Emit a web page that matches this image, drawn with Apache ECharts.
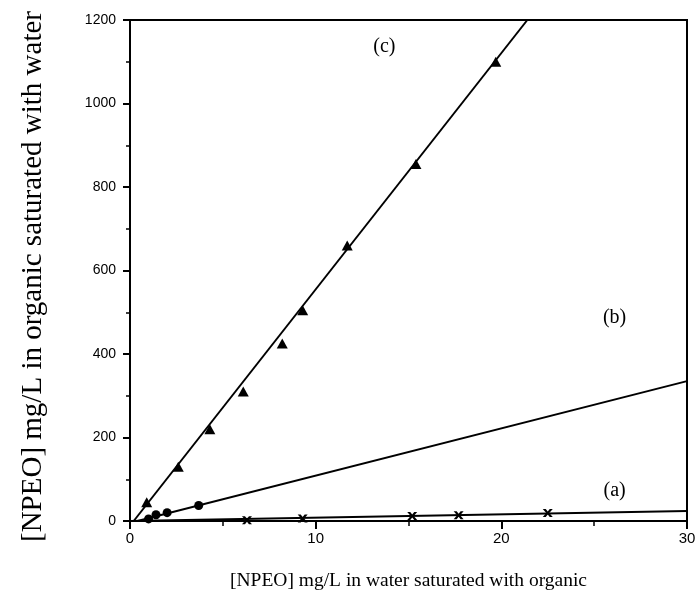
<!DOCTYPE html>
<html>
<head>
<meta charset="utf-8">
<script src="https://cdn.jsdelivr.net/npm/echarts@6/dist/echarts.min.js"></script>
<style>
  html, body { margin: 0; padding: 0; background: #fff; }
  #chart { width: 699px; height: 602px; }
</style>
</head>
<body>
<div id="chart"></div>
<script>
let pointsA = [[6.3, 2], [9.3, 6], [15.2, 12], [17.7, 14], [22.5, 19]]
let pointsB = [[1.0, 5], [1.4, 15], [2.0, 20], [3.7, 37]]
let pointsC = [[0.9, 45], [2.6, 130], [4.3, 220], [6.1, 310], [8.2, 425],
               [9.3, 505], [11.7, 660], [15.4, 855], [19.7, 1100]]

// fitted lines (end points)
let fitA = [[0.0, 0], [30, 24]]
let fitB = [[0.4, 0], [30, 335]]
let fitC = [[0.2, 0], [21.4, 1200]]

// curve labels
let curveLabels = [[13.7, 1137, '(c)'], [26.1, 486, '(b)'], [26.1, 72, '(a)']]

let xTitle = '[NPEO] mg/L in water saturated with organic'
let yTitle = '[NPEO] mg/L in organic saturated with water'

let serif = '"Liberation Serif", "DejaVu Serif", serif'
let sans = '"Liberation Sans", Arial, sans-serif'

let crossPath = 'path://M0,0 L3,0 L5,2.5 L7,0 L10,0 L6.5,4 L10,8 L7,8 L5,5.5 L3,8 L0,8 L3.5,4 Z'

let chart = echarts.init(document.getElementById('chart'))

function fitLine(data) {
    return {
        type: 'line',
        data: data,
        symbol: 'none',
        lineStyle: {color: '#000', width: 2},
        silent: true,
        z: 2
    }
}

function points(data, symbol, size) {
    return {
        type: 'scatter',
        data: data,
        symbol: symbol,
        symbolSize: size,
        itemStyle: {color: '#000', opacity: 1},
        z: 3
    }
}

chart.setOption({
    animation: false,
    backgroundColor: '#fff',
    grid: {
        left: 130, right: 12, top: 20, bottom: 81,
        show: true,
        borderColor: '#000',
        borderWidth: 2
    },
    xAxis: {
        type: 'value',
        min: 0, max: 30, interval: 10,
        name: xTitle,
        nameLocation: 'middle',
        nameGap: 50,
        nameTextStyle: {fontFamily: serif, fontSize: 19.5, color: '#000'},
        axisLine: {lineStyle: {color: '#000', width: 2}},
        axisTick: {inside: false, length: 8, lineStyle: {color: '#000', width: 2}},
        minorTick: {show: true, splitNumber: 2, length: 5, lineStyle: {color: '#000', width: 1.5}},
        axisLabel: {fontFamily: sans, fontSize: 15, color: '#000', margin: 10},
        splitLine: {show: false}
    },
    yAxis: {
        type: 'value',
        min: 0, max: 1200, interval: 200,
        name: yTitle,
        nameLocation: 'middle',
        nameGap: 82,
        nameTextStyle: {fontFamily: serif, fontSize: 29, color: '#000', padding: [0, 12, 0, 0]},
        axisLine: {lineStyle: {color: '#000', width: 2}},
        axisTick: {inside: false, length: 7, lineStyle: {color: '#000', width: 2}},
        minorTick: {show: true, splitNumber: 2, length: 4, lineStyle: {color: '#000', width: 1.5}},
        axisLabel: {fontFamily: sans, fontSize: 14, color: '#000', margin: 14, formatter: v => String(v)},
        splitLine: {show: false}
    },
    series: [
        fitLine(fitA),
        fitLine(fitB),
        fitLine(fitC),
        points(pointsA, crossPath, [10, 8]),
        points(pointsB, 'circle', 9),
        points(pointsC, 'triangle', [11, 10]),
        {
            type: 'scatter',
            data: curveLabels,
            symbolSize: 0,
            silent: true,
            itemStyle: {opacity: 1},
            label: {
                show: true,
                position: 'inside',
                formatter: p => p.data[2],
                fontFamily: serif,
                fontSize: 20,
                color: '#000'
            }
        }
    ]
})
</script>
</body>
</html>
